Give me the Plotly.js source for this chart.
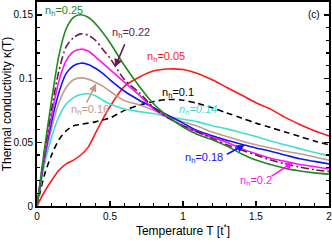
<!DOCTYPE html>
<html><head><meta charset="utf-8">
<script src="https://cdn.plot.ly/plotly-3.0.1.min.js"></script>
<style>html,body{margin:0;padding:0;background:#fff}#c{width:332px;height:242px}</style>
</head><body><div id="c"></div>
<script>
const T = [0,0.05,0.1,0.15,0.2,0.25,0.3,0.35,0.4,0.45,0.5,0.6,0.7,0.8,0.9,1.0,1.1,1.2,1.3,1.4,1.5,1.6,1.7,1.8,1.9,2.0];
const k005 = [0,0.011,0.020,0.028,0.033,0.036,0.040,0.046,0.057,0.068,0.078,0.094,0.101,0.106,0.1075,0.107,0.104,0.099,0.093,0.087,0.081,0.076,0.0695,0.064,0.059,0.055];
const k010 = [0,0.024,0.040,0.052,0.059,0.063,0.064,0.065,0.066,0.0675,0.069,0.075,0.079,0.082,0.0835,0.083,0.0805,0.077,0.073,0.069,0.065,0.0615,0.058,0.0545,0.051,0.048];
const k014 = [0,0.032,0.054,0.070,0.080,0.085,0.0875,0.088,0.0865,0.083,0.080,0.076,0.074,0.0725,0.070,0.068,0.066,0.063,0.0605,0.0575,0.0545,0.051,0.048,0.045,0.042,0.0395];
const k016 = [0,0.035,0.061,0.081,0.093,0.099,0.1005,0.0995,0.097,0.094,0.090,0.0825,0.0795,0.075,0.0705,0.066,0.0625,0.058,0.0545,0.051,0.048,0.0455,0.043,0.041,0.0385,0.036];
const k018 = [0,0.037,0.066,0.089,0.104,0.110,0.112,0.111,0.108,0.104,0.099,0.090,0.083,0.077,0.071,0.065,0.059,0.055,0.0515,0.0485,0.0455,0.043,0.040,0.037,0.035,0.033];
const k020 = [0,0.039,0.071,0.098,0.114,0.121,0.123,0.1215,0.117,0.112,0.107,0.097,0.087,0.076,0.069,0.063,0.058,0.054,0.050,0.045,0.041,0.0375,0.035,0.0325,0.031,0.029];
const k022 = [0,0.041,0.076,0.106,0.125,0.132,0.135,0.134,0.130,0.123,0.116,0.099,0.089,0.077,0.069,0.063,0.058,0.053,0.048,0.044,0.040,0.036,0.033,0.0305,0.0285,0.027];
const k025 = [0,0.044,0.083,0.118,0.139,0.148,0.150,0.148,0.143,0.136,0.128,0.110,0.094,0.080,0.070,0.062,0.056,0.052,0.047,0.041,0.036,0.0325,0.0295,0.0275,0.026,0.025];
const xTickVals = [0,0.5,1,1.5,2];
const xTickText = ['0','0.5','1','1.5','2'];
const yTickVals = [0,0.05,0.1,0.15];
const yTickText = ['0','0.05','0.1','0.15'];

const FONT = 'Arial, "Liberation Sans", sans-serif';
function tr(y, color, dash, w){
  return {x:T, y:y, mode:'lines', line:{color:color, width:w||1.6, dash:dash||'solid', shape:'spline', smoothing:0.8}, showlegend:false, hoverinfo:'skip', cliponaxis:true};
}
const data = [
  tr(k005,'#ff1a1a'),
  tr(k010,'#000000','6px,4px'),
  tr(k014,'#40e0d0'),
  tr(k016,'#c49a8c'),
  tr(k018,'#1414ff'),
  tr(k020,'#ff10ff'),
  tr(k022,'#6b1a4a','8px,3px,2px,3px'),
  tr(k025,'#1f8a1f')
];
function lab(x,y,txt,color,extra){
  return Object.assign({x:x,y:y,xref:'x',yref:'y',text:txt,showarrow:false,font:{family:FONT,size:11,color:color},xanchor:'left',yanchor:'middle'},extra||{});
}
function arr(x,y,ax,ay,color){
  return {x:x,y:y,ax:ax,ay:ay,xref:'x',yref:'y',axref:'x',ayref:'y',text:'',showarrow:true,arrowhead:2,arrowsize:1,arrowwidth:1.6,arrowcolor:color};
}
const annotations = [
  lab(0.04,0.153,'n<sub>h</sub>=0.25','#1f8a1f'),
  lab(0.50,0.136,'n<sub>h</sub>=0.22','#6b1a4a'),
  arr(0.535,0.109,0.605,0.128,'#6b1a4a'),
  lab(0.74,0.117,'n<sub>h</sub>=0.05','#ff1a1a'),
  lab(0.84,0.089,'n<sub>h</sub>=0.1','#000000'),
  lab(0.96,0.0755,'<i>n<sub>h</sub>=0.14</i>','#40e0d0'),
  lab(0.22,0.0755,'n<sub>h</sub>=0.16','#c49a8c'),
  arr(0.405,0.096,0.335,0.080,'#c49a8c'),
  lab(1.0,0.0375,'n<sub>h</sub>=0.18','#1414ff'),
  arr(1.423,0.0478,1.29,0.040,'#1414ff'),
  lab(1.38,0.0195,'n<sub>h</sub>=0.2','#ff10ff'),
  arr(1.755,0.0345,1.595,0.0225,'#ff10ff'),
  lab(1.95,0.15,'(c)','#000000',{xanchor:'right',font:{family:FONT,size:10,color:'#000'}})
];
const layout = {
  width:332, height:242,
  margin:{l:37,r:3,t:2,b:36},
  paper_bgcolor:'#fff', plot_bgcolor:'#fff',
  font:{family:FONT,size:10,color:'#000'},
  xaxis:{range:[0,2.0002], tickvals:xTickVals, ticktext:xTickText, ticks:'inside', ticklen:5, tickwidth:1.5, tickcolor:'#000',
    ticklabeloverflow:'allow',
    minor:{dtick:0.1, tick0:0, ticks:'inside', ticklen:3, tickwidth:1.2, tickcolor:'#000', showgrid:false},
    showline:true, linewidth:2, linecolor:'#000', mirror:true, showgrid:false, zeroline:false,
    tickfont:{family:FONT,size:10}, title:{text:'Temperature T [t<sup>*</sup>]', font:{family:FONT,size:12}, standoff:4}},
  yaxis:{range:[0,0.16], tickvals:yTickVals, ticktext:yTickText, ticks:'inside', ticklen:5, tickwidth:1.5, tickcolor:'#000',
    minor:{dtick:0.01, tick0:0, ticks:'inside', ticklen:3, tickwidth:1.2, tickcolor:'#000', showgrid:false},
    showline:true, linewidth:2, linecolor:'#000', mirror:'ticks', showgrid:false, zeroline:false,
    tickfont:{family:FONT,size:10}, title:{text:'Thermal conductivity κ(T)', font:{family:FONT,size:12}, standoff:3}},
  annotations: annotations
};
Plotly.newPlot('c', data, layout, {staticPlot:true, displayModeBar:false});
</script></body></html>
